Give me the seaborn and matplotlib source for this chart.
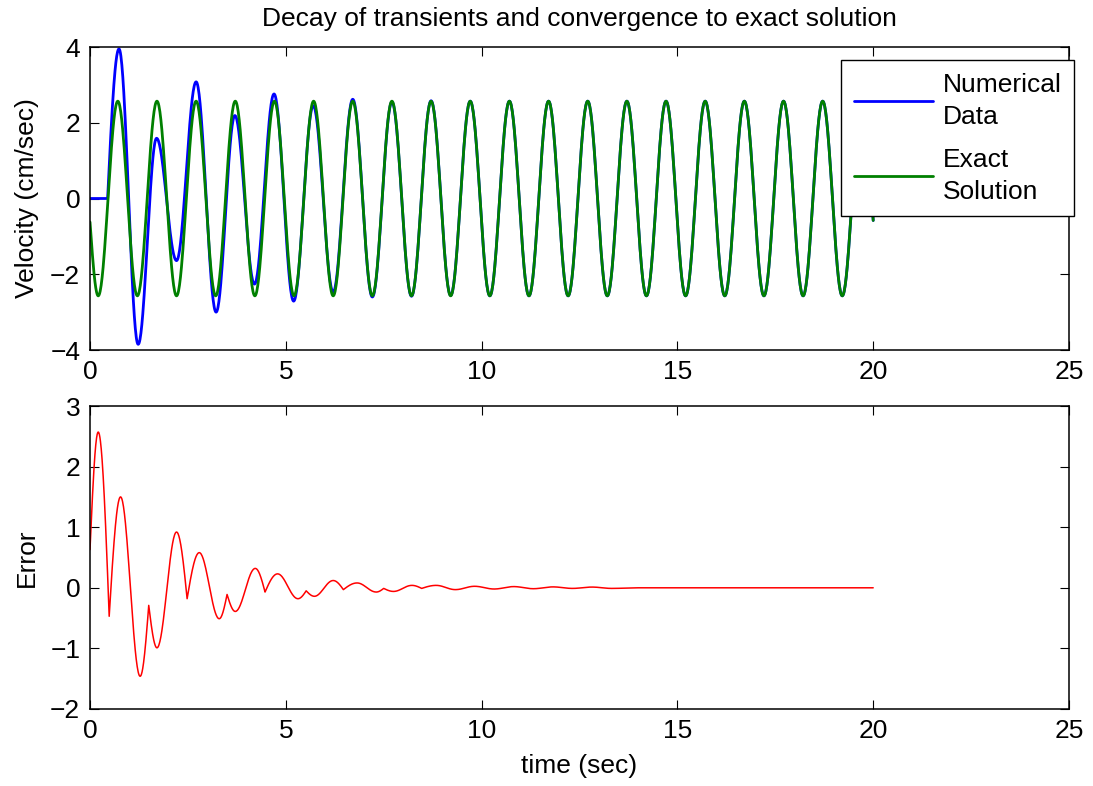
import numpy as np
import pandas as pd
import matplotlib
matplotlib.use("Agg")
import matplotlib.pyplot as plt
import seaborn as sns

# ---- data: extrema of each curve (time, value, shape) ----
# shape: "f" = smooth extremum, "s" = sharp corner, "e" = end point
num_t = [0.00, 0.45, 0.74, 1.23, 1.70, 2.21, 2.71, 3.22, 3.70, 4.20, 4.70,
         5.20, 5.70, 6.21, 6.71, 7.21, 7.71, 8.21, 8.71, 9.21, 9.71, 10.21,
         10.71, 11.21, 11.71, 12.21, 12.71, 13.21, 13.71, 14.21, 14.71, 15.21,
         15.71, 16.21, 16.71, 17.21, 17.71, 18.21, 18.71, 19.21, 19.71, 20.00]
num_v = [0.00, 0.00, 3.95, -3.85, 1.59, -1.64, 3.08, -3.00, 2.19, -2.26, 2.76,
         -2.71, 2.45, -2.47, 2.62, -2.60, 2.55, -2.58, 2.58, -2.56, 2.57, -2.57,
         2.57, -2.57, 2.57, -2.57, 2.57, -2.57, 2.57, -2.57, 2.57, -2.57,
         2.57, -2.57, 2.57, -2.57, 2.57, -2.57, 2.57, -2.57, 2.57, -0.58]
num_k = ["e", "s"] + ["f"] * 39 + ["e"]

exact_t = [0.00, 0.21, 0.71, 1.21, 1.71, 2.21, 2.71, 3.21, 3.71, 4.21, 4.71,
           5.21, 5.71, 6.21, 6.71, 7.21, 7.71, 8.21, 8.71, 9.21, 9.71, 10.21,
           10.71, 11.21, 11.71, 12.21, 12.71, 13.21, 13.71, 14.21, 14.71, 15.21,
           15.71, 16.21, 16.71, 17.21, 17.71, 18.21, 18.71, 19.21, 19.71, 20.00]
exact_v = [-0.62, -2.57, 2.57, -2.57, 2.57, -2.57, 2.57, -2.57, 2.57, -2.57, 2.57,
           -2.57, 2.57, -2.57, 2.57, -2.57, 2.57, -2.57, 2.57, -2.57, 2.57, -2.57,
           2.57, -2.57, 2.57, -2.57, 2.57, -2.57, 2.57, -2.57, 2.57, -2.57,
           2.57, -2.57, 2.57, -2.57, 2.57, -2.57, 2.57, -2.57, 2.57, -0.58]
exact_k = ["e"] + ["f"] * 40 + ["e"]

err_t = [0.00, 0.21, 0.49, 0.78, 1.28, 1.50, 1.71, 2.21, 2.48, 2.79, 3.30,
         3.50, 3.71, 4.22, 4.47, 4.79, 5.31, 5.52, 5.73, 6.21, 6.47, 6.82,
         7.31, 7.50, 7.75, 8.22, 8.47, 8.84, 9.33, 9.82, 10.32, 10.82, 11.32,
         11.82, 12.32, 12.82, 13.32, 14.00, 20.00]
err_v = [0.63, 2.57, -0.47, 1.50, -1.46, -0.29, -0.99, 0.92, -0.18, 0.58, -0.51,
         -0.11, -0.39, 0.32, -0.07, 0.23, -0.18, -0.05, -0.14, 0.12, -0.03, 0.08,
         -0.07, -0.01, -0.06, 0.04, -0.01, 0.04, -0.03, 0.025, -0.02, 0.02, -0.015,
         0.015, -0.01, 0.012, -0.01, 0.0, 0.0]
err_k = ["e", "f", "s", "f", "f", "s", "f", "f", "s", "f", "f",
         "s", "f", "f", "s", "f", "f", "s", "f", "f", "s", "f",
         "f", "s", "f", "f", "s", "f", "f", "f", "f", "f", "f",
         "f", "f", "f", "f", "f", "e"]

legend_labels = ["Numerical\nData", "Exact\nSolution"]


def trace(ts, vs, kinds, n=40):
    """Join successive extrema with rounded or sharp half-wave segments."""
    xs, ys = [], []
    for i in range(len(ts) - 1):
        t0, t1, v0, v1 = ts[i], ts[i + 1], vs[i], vs[i + 1]
        f0, f1 = kinds[i] == "f", kinds[i + 1] == "f"
        s = np.linspace(0.0, 1.0, n, endpoint=(i == len(ts) - 2))
        if f0 and f1:
            w = (1 - np.cos(np.pi * s)) / 2
        elif f0:
            w = 1 - np.cos(np.pi * s / 2)
        elif f1:
            w = np.sin(np.pi * s / 2)
        else:
            w = s
        xs.append(t0 + (t1 - t0) * s)
        ys.append(v0 + (v1 - v0) * w)
    return np.concatenate(xs), np.concatenate(ys)


nx, ny = trace(num_t, num_v, num_k)
ex, ey = trace(exact_t, exact_v, exact_k)
rx, ry = trace(err_t, err_v, err_k)
num_df = pd.DataFrame({"time": nx, "velocity": ny})
exact_df = pd.DataFrame({"time": ex, "velocity": ey})
err_df = pd.DataFrame({"time": rx, "error": ry})

# ---- style ----
sns.set_theme(style="white")
plt.rcParams.update({
    "font.family": ["Liberation Sans", "DejaVu Sans"],
    "font.size": 19,
    "text.color": "black",
    "axes.edgecolor": "black",
    "axes.linewidth": 1.1,
    "axes.labelcolor": "black",
    "axes.titlecolor": "black",
    "xtick.color": "black",
    "ytick.color": "black",
    "xtick.labelsize": 19,
    "ytick.labelsize": 19,
    "xtick.direction": "in",
    "ytick.direction": "in",
    "xtick.bottom": True,
    "xtick.top": True,
    "ytick.left": True,
    "ytick.right": True,
    "xtick.major.size": 6.5,
    "ytick.major.size": 6.5,
    "xtick.major.width": 0.8,
    "ytick.major.width": 0.8,
    "xtick.major.pad": 7,
    "ytick.major.pad": 7,
})

W, H = 1093, 786
fig = plt.figure(figsize=(W / 100, H / 100), dpi=100)
ax1 = fig.add_axes([90 / W, 1 - 350 / H, 979 / W, 303 / H])
ax2 = fig.add_axes([90 / W, 1 - 709 / H, 979 / W, 303 / H])

# ---- velocity panel ----
sns.lineplot(data=num_df, x="time", y="velocity", ax=ax1, color=(0, 0, 1),
             linewidth=2.0, sort=False, estimator=None, label=legend_labels[0])
sns.lineplot(data=exact_df, x="time", y="velocity", ax=ax1, color=(0, 0.5, 0),
             linewidth=2.0, sort=False, estimator=None, label=legend_labels[1])
ax1.set_xlim(0, 25)
ax1.set_ylim(-4, 4)
ax1.set_xticks(np.arange(0, 26, 5))
ax1.set_yticks(np.arange(-4, 5, 2))
ax1.set_xlabel("")
ax1.set_ylabel("Velocity (cm/sec)", fontsize=19, labelpad=8)
ax1.set_title("Decay of transients and convergence to exact solution",
              fontsize=19, pad=15, color="black")
leg = ax1.legend(loc="upper right", bbox_to_anchor=(1074 / W, 1 - 60 / H),
                 bbox_transform=fig.transFigure, borderaxespad=0,
                 fancybox=False, framealpha=1, edgecolor="black",
                 fontsize=19, handlelength=3.0, handletextpad=0.35,
                 borderpad=0.48, labelspacing=0.72)
leg.get_frame().set_linewidth(1.0)
for line in leg.get_lines():
    line.set_linewidth(2.0)
for txt in leg.get_texts():
    txt.set_linespacing(1.42)
    txt.set_color("black")

# ---- error panel ----
sns.lineplot(data=err_df, x="time", y="error", ax=ax2, color=(1, 0, 0),
             linewidth=1.1, sort=False, estimator=None)
ax2.set_xlim(0, 25)
ax2.set_ylim(-2, 3)
ax2.set_xticks(np.arange(0, 26, 5))
ax2.set_yticks(np.arange(-2, 4, 1))
ax2.set_xlabel("time (sec)", fontsize=19, labelpad=8)
ax2.set_ylabel("Error", fontsize=19, labelpad=8)

for ax in (ax1, ax2):
    for sp in ax.spines.values():
        sp.set_visible(True)
        sp.set_color("black")

fig.savefig("out.png", dpi=100)
